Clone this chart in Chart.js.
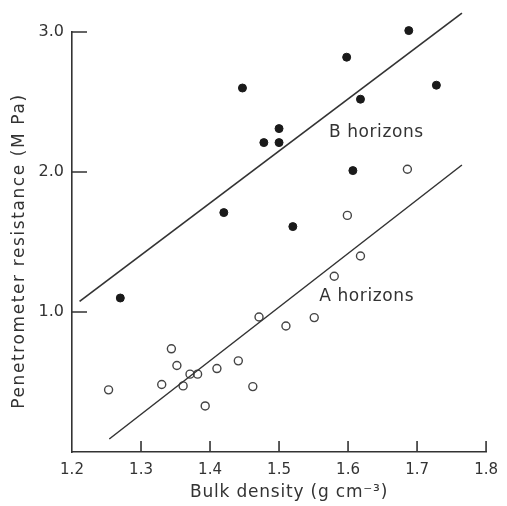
<!DOCTYPE html>
<html>
<head>
<meta charset="utf-8">
<script src="https://cdn.jsdelivr.net/npm/chart.js@4.4.1/dist/chart.umd.min.js"></script>
<style>
html,body{margin:0;padding:0;background:#fff;}
#wrap{width:507px;height:506px;position:relative;}
</style>
</head>
<body>
<div id="wrap"><canvas id="c"></canvas></div>
<script>
// Tick labels
const xTicks = [1.2, 1.3, 1.4, 1.5, 1.6, 1.7, 1.8];
const yTicks = [1.0, 2.0, 3.0];

// B horizons (filled dots)
const bX = [1.27, 1.42, 1.447, 1.478, 1.50, 1.50, 1.52, 1.598, 1.607, 1.618, 1.688, 1.728];
const bY = [1.10, 1.71, 2.60, 2.21, 2.21, 2.31, 1.61, 2.82, 2.01, 2.52, 3.01, 2.62];

// A horizons (open circles)
const aX = [1.253, 1.330, 1.344, 1.352, 1.361, 1.371, 1.382, 1.393, 1.410, 1.441, 1.462, 1.471, 1.510, 1.551, 1.580, 1.599, 1.618, 1.686];
const aY = [0.444, 0.482, 0.737, 0.618, 0.472, 0.556, 0.556, 0.329, 0.596, 0.651, 0.467, 0.964, 0.900, 0.960, 1.255, 1.690, 1.400, 2.020];

// Regression lines (end points)
const bLineX = [1.211, 1.765];
const bLineY = [1.076, 3.135];
const aLineX = [1.254, 1.765];
const aLineY = [0.093, 2.050];

// Text
const xTitle = 'Bulk density (g cm\u207B\u00B3)';
const yTitle = 'Penetrometer resistance (M Pa)';
const labelB = {text: 'B horizons', x: 1.641, y: 2.28};
const labelA = {text: 'A horizons', x: 1.627, y: 1.11};

const ink = '#333333';
const FONT = '"DejaVu Sans", sans-serif';

const pts = (xs, ys) => xs.map((x, i) => ({x: x, y: ys[i]}));

const decor = {
  id: 'decor',
  afterDraw(chart) {
    const ctx = chart.ctx;
    const xs = chart.scales.x, ys = chart.scales.y;
    const ca = chart.chartArea;
    ctx.save();
    ctx.strokeStyle = ink;
    ctx.lineWidth = 1.6;
    ctx.beginPath();
    xTicks.forEach(v => {
      if (v === xs.min) return;
      const px = xs.getPixelForValue(v);
      ctx.moveTo(px, ca.bottom);
      ctx.lineTo(px, ca.bottom - 11);
    });
    yTicks.forEach(v => {
      const py = ys.getPixelForValue(v);
      ctx.moveTo(ca.left, py);
      ctx.lineTo(ca.left + 15, py);
    });
    ctx.stroke();

    ctx.fillStyle = ink;
    ctx.font = '17px ' + FONT;
    ctx.textAlign = 'center';
    ctx.textBaseline = 'middle';
    ctx.letterSpacing = '0.6px';
    [labelB, labelA].forEach(l => {
      ctx.fillText(l.text, xs.getPixelForValue(l.x), ys.getPixelForValue(l.y));
    });

    ctx.font = '17px ' + FONT;
    ctx.letterSpacing = '0.8px';
    ctx.fillText(xTitle, (ca.left + ca.right) / 2 + 10, ca.bottom + 41);
    ctx.translate(20, (ca.top + ca.bottom) / 2 + 9);
    ctx.rotate(-Math.PI / 2);
    ctx.font = '17px ' + FONT;
    ctx.letterSpacing = '1.6px';
    ctx.fillText(yTitle, 0, 0);
    ctx.restore();
  }
};

new Chart(document.getElementById('c'), {
  type: 'scatter',
  data: {
    datasets: [
      {label: 'B line', type: 'line', data: pts(bLineX, bLineY), borderColor: ink, borderWidth: 1.7, pointRadius: 0, fill: false, clip: false},
      {label: 'A line', type: 'line', data: pts(aLineX, aLineY), borderColor: ink, borderWidth: 1.5, pointRadius: 0, fill: false, clip: false},
      {label: 'B horizons', data: pts(bX, bY), pointRadius: 4, backgroundColor: '#1a1a1a', borderColor: '#1a1a1a', borderWidth: 1, clip: false},
      {label: 'A horizons', data: pts(aX, aY), pointRadius: 4, backgroundColor: 'rgba(255,255,255,0)', borderColor: '#444', borderWidth: 1.4, clip: false}
    ]
  },
  options: {
    responsive: true,
    maintainAspectRatio: false,
    animation: false,
    events: [],
    layout: {padding: {top: 32, right: 12, left: 0, bottom: 0}},
    plugins: {legend: {display: false}, tooltip: {enabled: false}},
    scales: {
      x: {
        type: 'linear', min: 1.2, max: 1.8,
        afterBuildTicks: s => { s.ticks = xTicks.map(v => ({value: v})); },
        afterFit: s => { s.height = 54; },
        grid: {display: false, drawTicks: false},
        border: {display: true, color: ink, width: 1.6},
        ticks: {color: ink, font: {family: FONT, size: 15}, padding: 9, maxRotation: 0, callback: v => Number(v).toFixed(1)}
      },
      y: {
        type: 'linear', min: 0, max: 3.0,
        afterBuildTicks: s => { s.ticks = yTicks.map(v => ({value: v})); },
        afterFit: s => { s.width = 72; },
        grid: {display: false, drawTicks: false},
        border: {display: true, color: ink, width: 1.6},
        ticks: {color: ink, font: {family: FONT, size: 16}, padding: 8, callback: v => Number(v).toFixed(1)}
      }
    }
  },
  plugins: [decor]
});
</script>
</body>
</html>
